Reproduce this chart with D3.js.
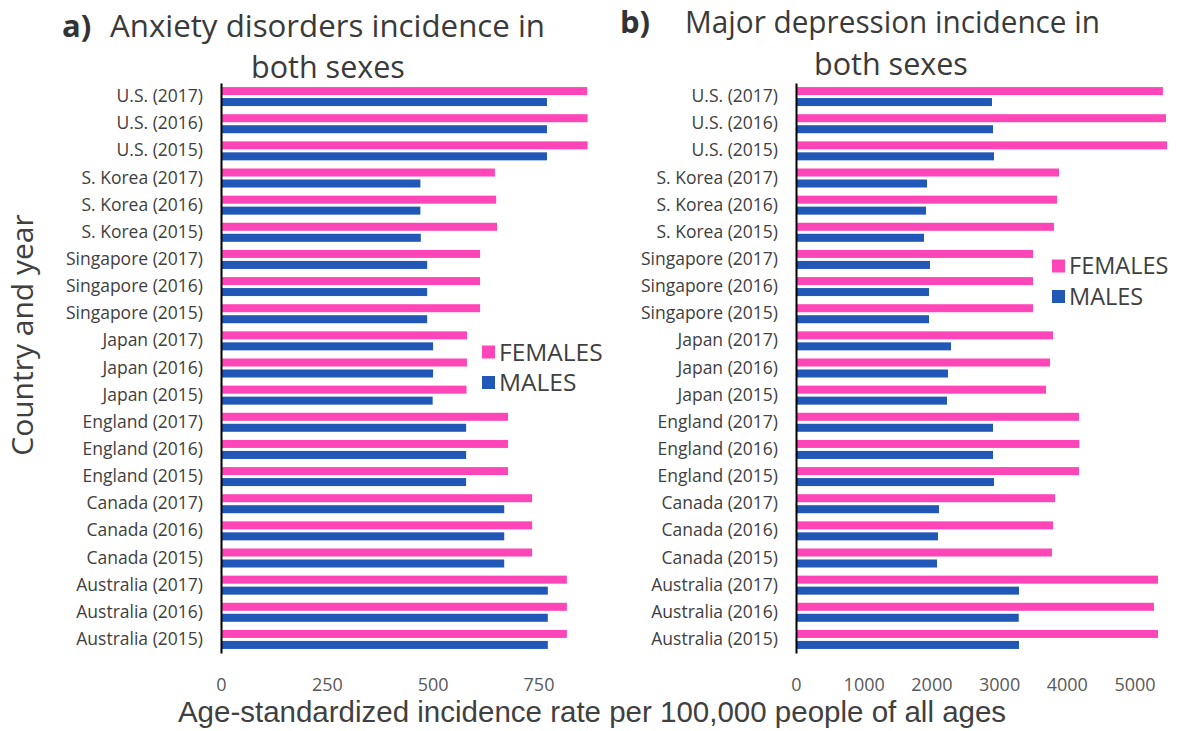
<!DOCTYPE html>
<html>
<head>
<meta charset="utf-8">
<script src="https://cdn.jsdelivr.net/npm/d3@7"></script>
<style>
  html, body { margin: 0; padding: 0; background: #ffffff; }
  svg { display: block; }
</style>
</head>
<body>
<svg id="chart" width="1183" height="731"></svg>
<script>
// ---------- DATA ----------
const categories = [
  "U.S. (2017)", "U.S. (2016)", "U.S. (2015)",
  "S. Korea (2017)", "S. Korea (2016)", "S. Korea (2015)",
  "Singapore (2017)", "Singapore (2016)", "Singapore (2015)",
  "Japan (2017)", "Japan (2016)", "Japan (2015)",
  "England (2017)", "England (2016)", "England (2015)",
  "Canada (2017)", "Canada (2016)", "Canada (2015)",
  "Australia (2017)", "Australia (2016)", "Australia (2015)"
];
const seriesNames = ["FEMALES", "MALES"];

// a) Anxiety disorders
const anxietyFemales = [865, 866, 866, 647, 650, 652, 612, 612, 612, 581, 581, 580, 678, 678, 678, 735, 735, 735, 817, 817, 817];
const anxietyMales   = [770, 770, 770, 471, 471, 472, 487, 487, 487, 501, 501, 500, 579, 579, 579, 669, 669, 669, 772, 772, 772];

// b) Major depression
const depressionFemales = [5420, 5465, 5480, 3885, 3855, 3811, 3501, 3501, 3501, 3796, 3752, 3693, 4180, 4185, 4180, 3826, 3796, 3781, 5347, 5288, 5347];
const depressionMales   = [2895, 2910, 2925, 1935, 1920, 1891, 1979, 1965, 1965, 2290, 2245, 2230, 2910, 2910, 2925, 2112, 2097, 2083, 3294, 3290, 3294];

const anxietyTicks = [0, 250, 500, 750];
const depressionTicks = [0, 1000, 2000, 3000, 4000, 5000];

const titleA = ["Anxiety disorders incidence in", "both sexes"];
const titleB = ["Major depression incidence in", "both sexes"];
const xAxisTitle = "Age-standardized incidence rate per 100,000 people of all ages";
const yAxisTitle = "Country and year";

// ---------- STYLE ----------
const colors = { FEMALES: "#FF46B9", MALES: "#2157B6" };
const textColor = "#404040";
const font = "'Open Sans', 'Liberation Sans', sans-serif";

const svg = d3.select("#chart");

const plotTop = 83, plotBottom = 653;

const yBand = d3.scaleBand()
  .domain(categories)
  .range([plotTop, plotBottom])
  .paddingInner(0.3)
  .paddingOuter(0.15);

const sub = d3.scaleBand()
  .domain(seriesNames)
  .range([0, yBand.bandwidth()])
  .paddingInner(0.27);

function panel(opts) {
  const g = svg.append("g");
  const x = d3.scaleLinear().domain(opts.domain).range(opts.range);

  const rows = categories.map((c, i) => ({ cat: c, FEMALES: opts.f[i], MALES: opts.m[i] }));

  // bars
  seriesNames.forEach(s => {
    g.append("g").selectAll("rect")
      .data(rows)
      .join("rect")
      .attr("x", x(0))
      .attr("y", d => yBand(d.cat) + sub(s))
      .attr("width", d => x(d[s]) - x(0))
      .attr("height", sub.bandwidth())
      .attr("fill", colors[s]);
  });

  // category axis
  const ya = g.append("g")
    .attr("transform", `translate(${x(0)},0)`)
    .call(d3.axisLeft(yBand).tickSize(0).tickPadding(18).tickSizeOuter(0));
  ya.select(".domain").attr("stroke", "#000").attr("stroke-width", 2);
  ya.selectAll("text")
    .attr("font-family", font)
    .attr("font-size", 17.5)
    .attr("fill", textColor);

  // value axis
  const xa = g.append("g")
    .attr("transform", `translate(0,${plotBottom})`)
    .call(d3.axisBottom(x).tickValues(opts.ticks).tickSize(0).tickPadding(25).tickFormat(d3.format("d")));
  xa.select(".domain").remove();
  xa.selectAll("text")
    .attr("font-family", font)
    .attr("font-size", 18)
    .attr("fill", "#595959");

  // title
  g.append("text")
    .attr("x", opts.labelX).attr("y", opts.titleY1)
    .attr("font-family", font).attr("font-weight", "bold")
    .attr("font-size", 31).attr("fill", "#333")
    .text(opts.label);
  g.append("text")
    .attr("x", opts.title1X).attr("y", opts.titleY1)
    .attr("font-family", font).attr("font-size", 30.5).attr("fill", "#3a3a3a")
    .attr("textLength", opts.title1W).attr("lengthAdjust", "spacingAndGlyphs")
    .text(opts.title[0]);
  g.append("text")
    .attr("x", opts.title2X).attr("y", opts.titleY2)
    .attr("text-anchor", "middle")
    .attr("font-family", font).attr("font-size", 30.5).attr("fill", "#3a3a3a")
    .text(opts.title[1]);

  // legend
  const lg = g.append("g").attr("transform", `translate(${opts.legendX},${opts.legendY})`);
  seriesNames.forEach((s, i) => {
    lg.append("rect")
      .attr("x", 0).attr("y", i * 30.5 - 6.5)
      .attr("width", 13).attr("height", 13)
      .attr("fill", colors[s]);
    lg.append("text")
      .attr("x", 17).attr("y", i * 30.5)
      .attr("dy", "0.35em")
      .attr("font-family", font).attr("font-size", opts.legendFont)
      .attr("fill", textColor)
      .text(s);
  });
}

panel({
  domain: [0, 750], range: [221, 538.5],
  f: anxietyFemales, m: anxietyMales, ticks: anxietyTicks,
  label: "a)", labelX: 62, title: titleA, title1X: 110, title1W: 435, title2X: 328,
  titleY1: 37, titleY2: 78,
  legendX: 482, legendY: 352, legendFont: 24.5
});

panel({
  domain: [0, 5000], range: [796, 1134.5],
  f: depressionFemales, m: depressionMales, ticks: depressionTicks,
  label: "b)", labelX: 620, title: titleB, title1X: 685, title1W: 415, title2X: 891,
  titleY1: 33, titleY2: 75,
  legendX: 1052, legendY: 266, legendFont: 23.5
});

// axis titles
svg.append("text")
  .attr("x", 592).attr("y", 722)
  .attr("text-anchor", "middle")
  .attr("font-family", "'Liberation Sans', Arial, sans-serif")
  .attr("font-size", 29.5)
  .attr("fill", "#404040")
  .text(xAxisTitle);

svg.append("text")
  .attr("transform", "translate(33,335) rotate(-90)")
  .attr("text-anchor", "middle")
  .attr("font-family", font)
  .attr("font-size", 30)
  .attr("fill", "#404040")
  .text(yAxisTitle);
</script>
</body>
</html>
